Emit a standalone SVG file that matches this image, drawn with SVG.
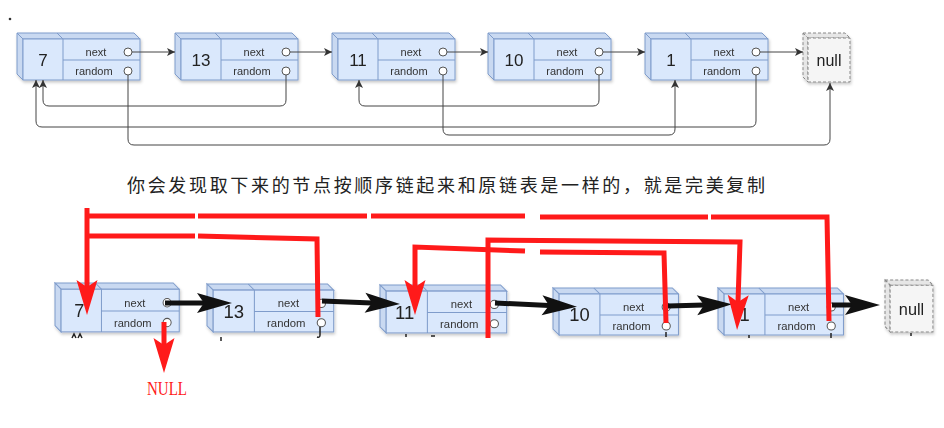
<svg xmlns="http://www.w3.org/2000/svg" xmlns:xlink="http://www.w3.org/1999/xlink" width="944" height="428" viewBox="0 0 944 428">
<style>
.side{fill:#c9d9f1;stroke:#7f9ccb;stroke-width:1}
.front{fill:#dae8fc;stroke:#7f9ccb;stroke-width:1}
.ln{fill:none;stroke:#7f9ccb;stroke-width:1}
.port{fill:#fff;stroke:#555;stroke-width:1}
.nside{fill:#e6e6e6;stroke:#888;stroke-width:1;stroke-dasharray:3 2}
.nfront{fill:#f5f5f5;stroke:#888;stroke-width:1;stroke-dasharray:3 2}
.val{font-family:"Liberation Sans",Arial,sans-serif;font-size:17px;fill:#222;text-anchor:middle}
.fld{font-family:"Liberation Sans",Arial,sans-serif;font-size:11px;fill:#333;text-anchor:middle}
.conn{fill:none;stroke:#444;stroke-width:1;marker-end:url(#ah)}
.blk{fill:none;stroke:#111;stroke-width:5;marker-end:url(#bh)}
.red{fill:none;stroke:#ff1a1a;stroke-width:5}
.redA{marker-end:url(#rh)}
.resid{fill:none;stroke:#222;stroke-width:1.5}
.nodes{filter:url(#sh)}
</style>
<defs>
<filter id="sh" x="-10%" y="-10%" width="130%" height="140%">
<feDropShadow dx="1" dy="2" stdDeviation="1.5" flood-opacity="0.22"/>
</filter>
<marker id="ah" markerUnits="userSpaceOnUse" markerWidth="10" markerHeight="10" refX="8" refY="4" orient="auto" overflow="visible">
<path d="M8,4 L0,0 L2,4 L0,8 Z" fill="#333"/>
</marker>
<marker id="bh" markerUnits="userSpaceOnUse" markerWidth="40" markerHeight="24" refX="0" refY="0" orient="auto" overflow="visible">
<path d="M28,0 L-7,-10 L0,0 L-7,10 Z" fill="#111"/>
</marker>
<marker id="rh" markerUnits="userSpaceOnUse" markerWidth="40" markerHeight="24" refX="0" refY="0" orient="auto" overflow="visible">
<path d="M28,0 L-7,-10.5 L0,0 L-7,10.5 Z" fill="#ff1a1a"/>
</marker>
<g id="box">
<polygon class="side" points="0,0 117,0 123,6 6,6"/>
<polygon class="side" points="0,0 6,6 6,47 0,41"/>
<rect class="front" x="6" y="6" width="117" height="41"/>
<path class="ln" d="M40,0 L46,6 V47 M46,27 H123"/>
<circle class="port" cx="111" cy="19" r="4"/>
<circle class="port" cx="111" cy="38" r="4"/>
</g>
<g id="nbox">
<polygon class="nside" points="0,0 42,0 47,5 5,5"/>
<polygon class="nside" points="0,0 5,5 5,49 0,44"/>
<rect class="nfront" x="5" y="5" width="42" height="44"/>
</g>
</defs>
<rect width="944" height="428" fill="#fff"/>
<circle cx="10" cy="19" r="1.3" fill="#333"/>

<!-- top diagram nodes -->
<g class="nodes">
<g id="t7" transform="translate(17,33)"><use href="#box"/><text class="val" x="26" y="33">7</text><text class="fld" x="79" y="23">next</text><text class="fld" x="77" y="42">random</text></g>
<g id="t13" transform="translate(175,33)"><use href="#box"/><text class="val" x="26" y="33">13</text><text class="fld" x="79" y="23">next</text><text class="fld" x="77" y="42">random</text></g>
<g id="t11" transform="translate(332,33)"><use href="#box"/><text class="val" x="26" y="33">11</text><text class="fld" x="79" y="23">next</text><text class="fld" x="77" y="42">random</text></g>
<g id="t10" transform="translate(488,33)"><use href="#box"/><text class="val" x="26" y="33">10</text><text class="fld" x="79" y="23">next</text><text class="fld" x="77" y="42">random</text></g>
<g id="t1" transform="translate(645,33)"><use href="#box"/><text class="val" x="26" y="33">1</text><text class="fld" x="79" y="23">next</text><text class="fld" x="77" y="42">random</text></g>
<g id="tnull" transform="translate(803,33)"><use href="#nbox"/><text class="val" x="26" y="33" style="font-size:16px">null</text></g>
</g>

<g id="top-connectors">
<path class="conn" d="M132,52 H175"/>
<path class="conn" d="M290,52 H332"/>
<path class="conn" d="M447,52 H488"/>
<path class="conn" d="M603,52 H645"/>
<path class="conn" d="M760,52 H803"/>
<path class="conn" d="M128,75 V139 Q128,145 134,145 H824 Q830,145 830,139 V83"/>
<path class="conn" d="M286,75 V100 Q286,106 280,106 H49 Q43,106 43,100 V80"/>
<path class="conn" d="M756,75 V121 Q756,127 750,127 H42 Q36,127 36,121 V80"/>
<path class="conn" d="M599,75 V100 Q599,106 593,106 H365 Q359,106 359,100 V80"/>
<path class="conn" d="M443,75 V129 Q443,135 449,135 H669 Q675,135 675,129 V80"/>
</g>

<text x="127" y="192" font-family="'Noto Sans CJK SC',sans-serif" font-size="18" fill="#222" textLength="638" lengthAdjust="spacing">你会发现取下来的节点按顺序链起来和原链表是一样的，就是完美复制</text>

<!-- bottom diagram nodes -->
<g class="nodes">
<g id="b7" transform="translate(55,283) scale(1.01,1.04)"><use href="#box"/><text class="val" x="24" y="33" style="font-size:18px">7</text><text class="fld" x="79" y="23">next</text><text class="fld" x="77" y="42">random</text></g>
<g id="b13" transform="translate(207,284) scale(1.03,1.02)"><use href="#box"/><text class="val" x="26" y="33" style="font-size:18px">13</text><text class="fld" x="79" y="23">next</text><text class="fld" x="77" y="42">random</text></g>
<g id="b11" transform="translate(380,285) scale(1.03,1.02)"><use href="#box"/><text class="val" x="24" y="33" style="font-size:18px">11</text><text class="fld" x="79" y="23">next</text><text class="fld" x="77" y="42">random</text></g>
<g id="b10" transform="translate(553,288) scale(1.02,1.0)"><use href="#box"/><text class="val" x="26" y="33" style="font-size:18px">10</text><text class="fld" x="79" y="23">next</text><text class="fld" x="77" y="42">random</text></g>
<g id="b1" transform="translate(718,288) scale(1.02,1.0)"><use href="#box"/><text class="val" x="26" y="33" style="font-size:18px">1</text><text class="fld" x="79" y="23">next</text><text class="fld" x="77" y="42">random</text></g>
<g id="bnull" transform="translate(885,280) scale(1.02,1.06)"><use href="#nbox"/><text class="val" x="26" y="33" style="font-size:16px">null</text></g>
</g>

<g id="residue">
<path class="resid" d="M72,338 L74,334 L76,338 M78,338 L80,334 L82,338"/>
<path class="resid" d="M221,337 V341"/>
<path class="resid" d="M320,327 V335 Q320,338 317,337"/>
<path class="resid" d="M406,334 V337 M431,336 H435"/>
<path class="resid" d="M666,332 V337"/>
<path class="resid" d="M749,335 V338 M831,333 V338"/>
<path class="resid" d="M911,333 V336"/>
</g>

<g id="bottom-connectors">
<path class="blk" d="M165,303 L204,303"/>
<path class="blk" d="M322,301 L372,303"/>
<path class="blk" d="M495,303 L549,305.5"/>
<path class="blk" d="M668,306 L704,305"/>
<path class="blk" d="M832,305 L852,305"/>
<path class="red" d="M829,321 L827,217 H711 M708,217 H540 M525,216 H371 M367,216 H198 M195,216 H85"/>
<path class="red redA" d="M87,208 V287"/>
<path class="red" d="M85,236 H195 M198,236 L317,239 L318,317"/>
<path class="red" d="M666,323 L664,253 L540,252"/>
<path class="red redA" d="M525,251 L415,247 V287"/>
<path class="red redA" d="M488,338 V240 L740,242 L738,302"/>
<path class="red redA" d="M164,322 V345"/>
</g>
<text x="167" y="395" font-family="'Liberation Serif',serif" font-size="19" fill="#ff1a1a" text-anchor="middle" textLength="40" lengthAdjust="spacingAndGlyphs">NULL</text>
</svg>
